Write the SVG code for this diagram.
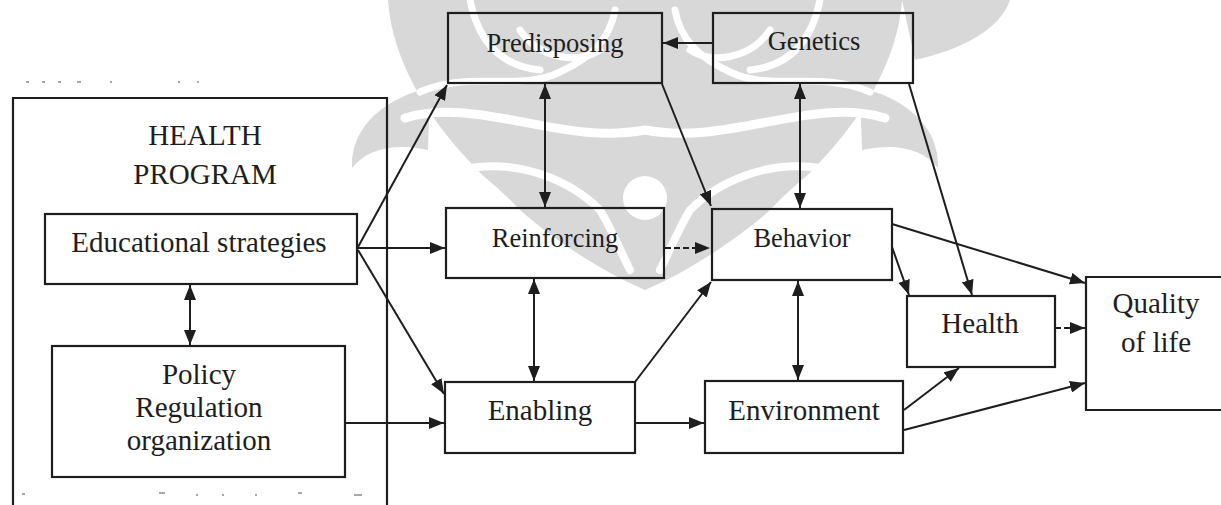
<svg xmlns="http://www.w3.org/2000/svg" width="1221" height="505" viewBox="0 0 1221 505">
  <style>
    .box { fill: none; stroke: #1e1e1e; stroke-width: 2.2; }
    .lbl { font-family: "Liberation Serif", "Times New Roman", serif; fill: #1e1e1e; text-anchor: middle; }
    .s26 { font-size: 26.5px; }
    .s29 { font-size: 29px; }
    .wire { fill: none; stroke: #1e1e1e; stroke-width: 2; }
    .dash { stroke-dasharray: 6 3; }
    .wm { fill: #d8d8d8; }
    .wmcut { fill: none; stroke: #ffffff; stroke-linecap: round; }
    .tick { stroke: #8c8c8c; stroke-width: 1.5; }
  </style>
  <defs>
    <marker id="head" markerUnits="userSpaceOnUse" markerWidth="16" markerHeight="12" refX="15" refY="6" orient="auto-start-reverse">
      <path d="M0,0 L15,6 L0,12 Z" fill="#1e1e1e"/>
    </marker>
  </defs>

  <rect width="1221" height="505" fill="#ffffff"/>

  <!-- light emblem behind the upper middle of the chart -->
  <g id="emblem">
    <path class="wm" d="M388,0 L902,0 C898,60 862,118 820,162 C778,208 718,258 645,290 C572,258 512,208 470,162 C428,118 392,60 388,0 Z"/>
    <path class="wm" d="M430,88 C390,96 350,124 352,168 C366,150 392,142 428,150 Z"/>
    <path class="wm" d="M860,88 C900,96 940,124 938,168 C924,150 898,142 862,150 Z"/>
    <path class="wm" d="M902,0 L1010,0 C1000,30 960,50 915,60 Z"/>
    <path class="wmcut" stroke-width="9" d="M405,118 C480,96 560,146 645,130 C730,146 810,96 885,118"/>
    <path class="wmcut" stroke-width="7" d="M420,92 C470,70 520,92 560,72 C590,58 610,40 615,10"/>
    <path class="wmcut" stroke-width="7" d="M870,92 C820,70 770,92 730,72 C700,58 680,40 675,10"/>
    <path class="wmcut" stroke-width="7" d="M470,0 C478,40 500,66 540,70"/>
    <path class="wmcut" stroke-width="7" d="M820,0 C812,40 790,66 750,70"/>
    <path class="wmcut" stroke-width="8" d="M470,168 C520,160 570,180 600,210 C612,230 620,250 630,270"/>
    <path class="wmcut" stroke-width="8" d="M820,168 C770,160 720,180 690,210 C678,230 670,250 660,270"/>
    <path class="wmcut" stroke-width="6" d="M445,150 C500,190 535,225 555,262"/>
    <path class="wmcut" stroke-width="6" d="M845,150 C790,190 755,225 735,262"/>
    <circle cx="645" cy="198" r="22" fill="#ffffff"/>
    <path class="wmcut" stroke-width="7" d="M520,30 C540,60 580,64 600,50"/>
    <path class="wmcut" stroke-width="7" d="M770,30 C750,60 710,64 690,50"/>
  </g>

  <!-- faint scanner ticks above and below the program frame -->
  <g id="scan-ticks">
    <line class="tick" x1="26" y1="82" x2="29" y2="82"/>
    <line class="tick" x1="42" y1="82" x2="45" y2="82"/>
    <line class="tick" x1="58" y1="82" x2="61" y2="82"/>
    <line class="tick" x1="77" y1="82" x2="81" y2="82"/>
    <line class="tick" x1="110" y1="82" x2="112" y2="82"/>
    <line class="tick" x1="178" y1="82" x2="180" y2="82"/>
    <line class="tick" x1="197" y1="82" x2="199" y2="82"/>
    <line class="tick" x1="22" y1="494" x2="25" y2="494"/>
    <line class="tick" x1="159" y1="493" x2="165" y2="493"/>
    <line class="tick" x1="196" y1="495" x2="198" y2="495"/>
    <line class="tick" x1="222" y1="495" x2="224" y2="495"/>
    <line class="tick" x1="255" y1="495" x2="257" y2="495"/>
    <line class="tick" x1="298" y1="493" x2="302" y2="493"/>
    <line class="tick" x1="354" y1="495" x2="362" y2="495"/>
  </g>

  <g id="health-program">
    <path class="box" d="M13,505 V98 H387 V505"/>
    <text class="lbl s29" x="205" y="145">HEALTH</text>
    <text class="lbl s29" x="205" y="184">PROGRAM</text>
  </g>

  <g id="educational">
    <rect class="box" x="45" y="214" width="312" height="70"/>
    <text class="lbl s29" x="199" y="252">Educational strategies</text>
  </g>

  <g id="policy">
    <rect class="box" x="52" y="346" width="293" height="131"/>
    <text class="lbl s29" x="199" y="384">Policy</text>
    <text class="lbl s29" x="199" y="417">Regulation</text>
    <text class="lbl s29" x="199" y="450">organization</text>
  </g>

  <g id="predisposing">
    <rect class="box" x="448" y="13" width="214" height="70"/>
    <text class="lbl s26" x="555" y="52">Predisposing</text>
  </g>

  <g id="genetics">
    <rect class="box" x="713" y="13" width="200" height="70"/>
    <text class="lbl s26" x="814" y="50">Genetics</text>
  </g>

  <g id="reinforcing">
    <rect class="box" x="446" y="208" width="218" height="70"/>
    <text class="lbl s26" x="555" y="247">Reinforcing</text>
  </g>

  <g id="behavior">
    <rect class="box" x="712" y="209" width="180" height="71"/>
    <text class="lbl s26" x="802" y="247">Behavior</text>
  </g>

  <g id="enabling">
    <rect class="box" x="445" y="382" width="190" height="71"/>
    <text class="lbl s29" x="540" y="420">Enabling</text>
  </g>

  <g id="environment">
    <rect class="box" x="705" y="381" width="198" height="72"/>
    <text class="lbl s29" x="804" y="420">Environment</text>
  </g>

  <g id="health">
    <rect class="box" x="907" y="296" width="148" height="71"/>
    <text class="lbl s29" x="980" y="333">Health</text>
  </g>

  <g id="quality-of-life">
    <path class="box" d="M1230,277 H1086 V410 H1230"/>
    <text class="lbl s29" x="1156" y="313">Quality</text>
    <text class="lbl s29" x="1156" y="352">of life</text>
  </g>

  <g id="connectors">
    <line class="wire" x1="713" y1="43" x2="663" y2="43" marker-end="url(#head)"/>
    <line class="wire" x1="358" y1="247" x2="447" y2="85" marker-end="url(#head)"/>
    <line class="wire" x1="358" y1="248" x2="445" y2="248" marker-end="url(#head)"/>
    <line class="wire" x1="358" y1="250" x2="444" y2="394" marker-end="url(#head)"/>
    <line class="wire" x1="345" y1="423" x2="444" y2="423" marker-end="url(#head)"/>
    <line class="wire" x1="190" y1="285" x2="190" y2="345" marker-start="url(#head)" marker-end="url(#head)"/>
    <line class="wire" x1="545" y1="84" x2="545" y2="207" marker-start="url(#head)" marker-end="url(#head)"/>
    <line class="wire" x1="534" y1="279" x2="534" y2="381" marker-start="url(#head)" marker-end="url(#head)"/>
    <line class="wire" x1="800" y1="84" x2="800" y2="208" marker-start="url(#head)" marker-end="url(#head)"/>
    <line class="wire" x1="798" y1="281" x2="798" y2="380" marker-start="url(#head)" marker-end="url(#head)"/>
    <line class="wire" x1="662" y1="84" x2="711" y2="206" marker-end="url(#head)"/>
    <line class="wire dash" x1="665" y1="248" x2="710" y2="248" marker-end="url(#head)"/>
    <line class="wire" x1="635" y1="382" x2="711" y2="282" marker-end="url(#head)"/>
    <line class="wire" x1="635" y1="423" x2="704" y2="423" marker-end="url(#head)"/>
    <line class="wire" x1="909" y1="84" x2="972" y2="295" marker-end="url(#head)"/>
    <line class="wire" x1="892" y1="224" x2="1085" y2="283" marker-end="url(#head)"/>
    <line class="wire" x1="892" y1="247" x2="909" y2="295" marker-end="url(#head)"/>
    <line class="wire dash" x1="1055" y1="328" x2="1085" y2="328" marker-end="url(#head)"/>
    <line class="wire" x1="904" y1="410" x2="959" y2="368" marker-end="url(#head)"/>
    <line class="wire" x1="904" y1="430" x2="1085" y2="383" marker-end="url(#head)"/>
  </g>
</svg>
